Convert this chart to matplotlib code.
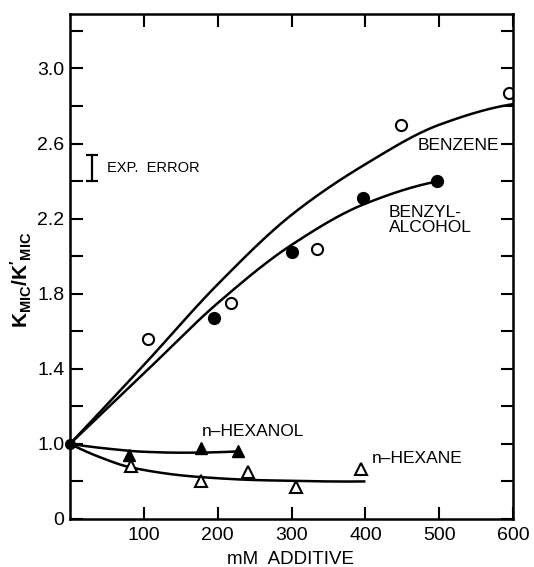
import numpy as np
import matplotlib
matplotlib.use("Agg")
import matplotlib.pyplot as plt

plt.rcParams['font.family'] = ['Liberation Sans', 'DejaVu Sans']
plt.rcParams['mathtext.fontset'] = 'custom'
plt.rcParams['mathtext.rm'] = 'Liberation Sans'
plt.rcParams['mathtext.bf'] = 'Liberation Sans:bold'

# Measured points (mM additive, Kmic/K'mic)
benzene_x = [0, 105, 218, 335, 448, 595]
benzene_y = [1.00, 1.56, 1.75, 2.04, 2.70, 2.87]
benzyl_x = [0, 195, 300, 397, 497]
benzyl_y = [1.00, 1.67, 2.02, 2.31, 2.40]
hexanol_x = [80, 178, 228]
hexanol_y = [0.94, 0.98, 0.96]
hexane_x = [82, 178, 241, 306, 394]
hexane_y = [0.88, 0.80, 0.85, 0.77, 0.865]

# Hand-fitted trend curves (knots along each curve)
benzene_fit_x = [0, 100, 200, 300, 400, 500, 600]
benzene_fit_y = [1.00, 1.42, 1.85, 2.22, 2.49, 2.70, 2.81]
benzyl_fit_x = [0, 100, 200, 300, 400, 500]
benzyl_fit_y = [1.00, 1.375, 1.75, 2.06, 2.28, 2.40]
hexanol_fit_x = [0, 50, 100, 150, 228]
hexanol_fit_y = [1.00, 0.975, 0.958, 0.953, 0.96]
hexane_fit_x = [0, 40, 83, 174, 264, 400]
hexane_fit_y = [1.00, 0.93, 0.874, 0.824, 0.806, 0.80]

x_ticks = [100, 200, 300, 400, 500, 600]
y_major = [0.6, 1.0, 1.4, 1.8, 2.2, 2.6, 3.0]
y_labels = ["0", "1.0", "1.4", "1.8", "2.2", "2.6", "3.0"]
y_minor = [0.8, 1.2, 1.6, 2.0, 2.4, 2.8, 3.2]


def pchip(xk, yk, xs):
    """Monotone piecewise cubic Hermite interpolation."""
    xk = np.asarray(xk, float)
    yk = np.asarray(yk, float)
    h = np.diff(xk)
    d = np.diff(yk) / h
    n = len(xk)
    m = np.zeros(n)
    for i in range(1, n - 1):
        if d[i - 1] * d[i] <= 0:
            m[i] = 0.0
        else:
            w1 = 2 * h[i] + h[i - 1]
            w2 = h[i] + 2 * h[i - 1]
            m[i] = (w1 + w2) / (w1 / d[i - 1] + w2 / d[i])
    m[0] = ((2 * h[0] + h[1]) * d[0] - h[0] * d[1]) / (h[0] + h[1]) if n > 2 else d[0]
    m[-1] = ((2 * h[-1] + h[-2]) * d[-1] - h[-1] * d[-2]) / (h[-1] + h[-2]) if n > 2 else d[-1]
    idx = np.clip(np.searchsorted(xk, xs) - 1, 0, n - 2)
    t = (xs - xk[idx]) / h[idx]
    h00 = 2 * t**3 - 3 * t**2 + 1
    h10 = t**3 - 2 * t**2 + t
    h01 = -2 * t**3 + 3 * t**2
    h11 = t**3 - t**2
    return (h00 * yk[idx] + h10 * h[idx] * m[idx]
            + h01 * yk[idx + 1] + h11 * h[idx] * m[idx + 1])


fig = plt.figure(figsize=(5.34, 5.67), dpi=100)
ax = fig.add_axes([0.131, 0.0847, 0.830, 0.8906])

lw = 1.8
for fx, fy in [(benzene_fit_x, benzene_fit_y), (benzyl_fit_x, benzyl_fit_y),
               (hexanol_fit_x, hexanol_fit_y), (hexane_fit_x, hexane_fit_y)]:
    xs = np.linspace(fx[0], fx[-1], 300)
    ax.plot(xs, pchip(fx, fy, xs), color='black', lw=lw, solid_capstyle='butt')

ax.plot(benzene_x[1:], benzene_y[1:], 'o', mfc='white', mec='black', mew=1.5, ms=8)
ax.plot(benzyl_x[1:], benzyl_y[1:], 'o', mfc='black', mec='black', ms=8.5)
ax.plot([benzyl_x[0]], [benzyl_y[0]], 'o', mfc='black', mec='black', ms=7, clip_on=False)
ax.plot(hexanol_x, hexanol_y, '^', mfc='black', mec='black', ms=8.5)
ax.plot(hexane_x, hexane_y, '^', mfc='white', mec='black', mew=1.5, ms=8.5)

# Experimental error bar
ax.errorbar([30], [2.47], yerr=[[0.07], [0.07]], fmt='none', ecolor='black',
            elinewidth=1.6, capsize=4, capthick=1.6)
ax.text(50, 2.47, "EXP.  ERROR", fontsize=10.5, va='center', ha='left')

ax.text(470, 2.59, "BENZENE", fontsize=12.5, va='center', ha='left')
ax.text(432, 2.19, "BENZYL-\nALCOHOL", fontsize=12.5, va='center', ha='left',
        linespacing=1.0)
ax.text(178, 1.065, "n\u2013HEXANOL", fontsize=12.5, va='center', ha='left')
ax.text(409, 0.923, "n\u2013HEXANE", fontsize=12.5, va='center', ha='left')

ax.set_xlim(0, 600)
ax.set_ylim(0.6, 3.29)
ax.set_xticks(x_ticks)
ax.set_xticklabels([str(v) for v in x_ticks])
ax.set_yticks(y_major)
ax.set_yticklabels(y_labels)
ax.set_yticks(y_minor, minor=True)

ax.tick_params(axis='both', which='both', direction='in', length=9, width=1.5,
               top=True, right=True, labelsize=14)
ax.tick_params(axis='y', pad=4)
ax.tick_params(axis='x', pad=6)
for s in ax.spines.values():
    s.set_linewidth(1.8)

ax.set_xlabel("mM  ADDITIVE", fontsize=13.5, va='baseline')
ax.xaxis.set_label_coords(0.497, -0.090)
ax.set_ylabel(r"$\mathbf{K_{MIC}/K'_{MIC}}$", fontsize=15)
ax.yaxis.set_label_coords(-0.082, 0.473)

fig.savefig("out.png", dpi=100)
